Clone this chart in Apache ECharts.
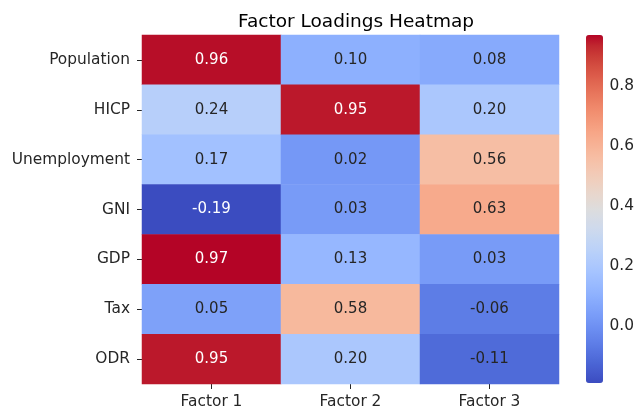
<!DOCTYPE html>
<html>
<head>
<meta charset="utf-8">
<script src="https://cdn.jsdelivr.net/npm/echarts@6/dist/echarts.min.js"></script>
<style>
  html, body { margin: 0; padding: 0; background: #fff; }
  #chart { width: 637px; height: 410px; }
</style>
</head>
<body>
<div id="chart"></div>
<script>
// rows / columns / loadings
var variables = ['Population', 'HICP', 'Unemployment', 'GNI', 'GDP', 'Tax', 'ODR']
var factors = ['Factor 1', 'Factor 2', 'Factor 3']
var factor1 = [0.96, 0.24, 0.17, -0.19, 0.97, 0.05, 0.95]
var factor2 = [0.10, 0.95, 0.02, 0.03, 0.13, 0.58, 0.20]
var factor3 = [0.08, 0.20, 0.56, 0.63, 0.03, -0.06, -0.11]
var colorbarTicks = [0.0, 0.2, 0.4, 0.6, 0.8]

// matplotlib coolwarm
var coolwarm = [
  '#3b4cc0', '#445acc', '#4d68d7', '#5775e1', '#6282ea', '#6c8ef1', '#779af7', '#82a5fb',
  '#8db0fe', '#98b9ff', '#a3c2ff', '#aec9fd', '#b8d0f9', '#c2d5f4', '#ccd9ee', '#d5dbe6',
  '#dddddd', '#e5d8d1', '#ecd3c5', '#f1ccb9', '#f5c4ad', '#f7bba0', '#f7b194', '#f7a687',
  '#f49a7b', '#f18d6f', '#ec7f63', '#e57058', '#de604d', '#d55042', '#cb3e38', '#c0282f',
  '#b40426'
]

var cols = [factor1, factor2, factor3]
var all = factor1.concat(factor2, factor3)
var vmin = Math.min.apply(null, all)
var vmax = Math.max.apply(null, all)

var cells = []
cols.forEach(function (arr, c) {
  arr.forEach(function (v, r) {
    var light = v > 0.8 || v < -0.15
    cells.push({
      value: [c, r, v],
      label: { color: light ? '#ffffff' : '#262626' }
    })
  })
})

var myChart = echarts.init(document.getElementById('chart'))
var option = {
  animation: false,
  textStyle: { fontFamily: 'DejaVu Sans' },
  title: {
    text: 'Factor Loadings Heatmap',
    left: 351,
    top: 8,
    textAlign: 'center',
    textStyle: { fontFamily: 'DejaVu Sans', fontSize: 18.5, fontWeight: 'normal', color: '#000' }
  },
  grid: [
    { left: 142, top: 35, width: 417, height: 349 },
    { left: 586, top: 35, width: 17, height: 348 }
  ],
  xAxis: [
    {
      type: 'category',
      gridIndex: 0,
      data: factors,
      axisLine: { show: false },
      axisTick: { show: true, alignWithLabel: true, length: 5, lineStyle: { color: '#262626' } },
      axisLabel: { fontSize: 15.4, color: '#262626', margin: 10 },
      splitArea: { show: false }
    },
    { type: 'value', gridIndex: 1, show: false }
  ],
  yAxis: [
    {
      type: 'category',
      gridIndex: 0,
      data: variables,
      inverse: true,
      axisLine: { show: false },
      axisTick: { show: true, alignWithLabel: true, length: 5, lineStyle: { color: '#262626' } },
      axisLabel: { fontSize: 15.4, color: '#262626', margin: 12 }
    },
    {
      type: 'value',
      gridIndex: 1,
      position: 'right',
      min: vmin,
      max: vmax,
      axisLine: { show: false },
      splitLine: { show: false },
      axisTick: { show: true, length: 5, lineStyle: { color: '#262626' }, customValues: colorbarTicks },
      axisLabel: {
        fontSize: 15.4, color: '#262626', margin: 15,
        customValues: colorbarTicks,
        formatter: function (v) { return v.toFixed(1) }
      }
    }
  ],
  visualMap: {
    type: 'continuous',
    seriesIndex: 0,
    min: vmin,
    max: vmax,
    calculable: false,
    left: 586,
    top: 35,
    padding: 0,
    itemWidth: 17,
    itemHeight: 348,
    text: null,
    showLabel: false,
    inRange: { color: coolwarm }
  },
  series: [
    {
      type: 'heatmap',
      xAxisIndex: 0,
      yAxisIndex: 0,
      data: cells,
      label: {
        show: true,
        fontSize: 15,
        formatter: function (p) { return p.value[2].toFixed(2) }
      },
      itemStyle: { borderWidth: 0 },
      emphasis: { disabled: true }
    }
  ]
}
myChart.setOption(option)
</script>
</body>
</html>
